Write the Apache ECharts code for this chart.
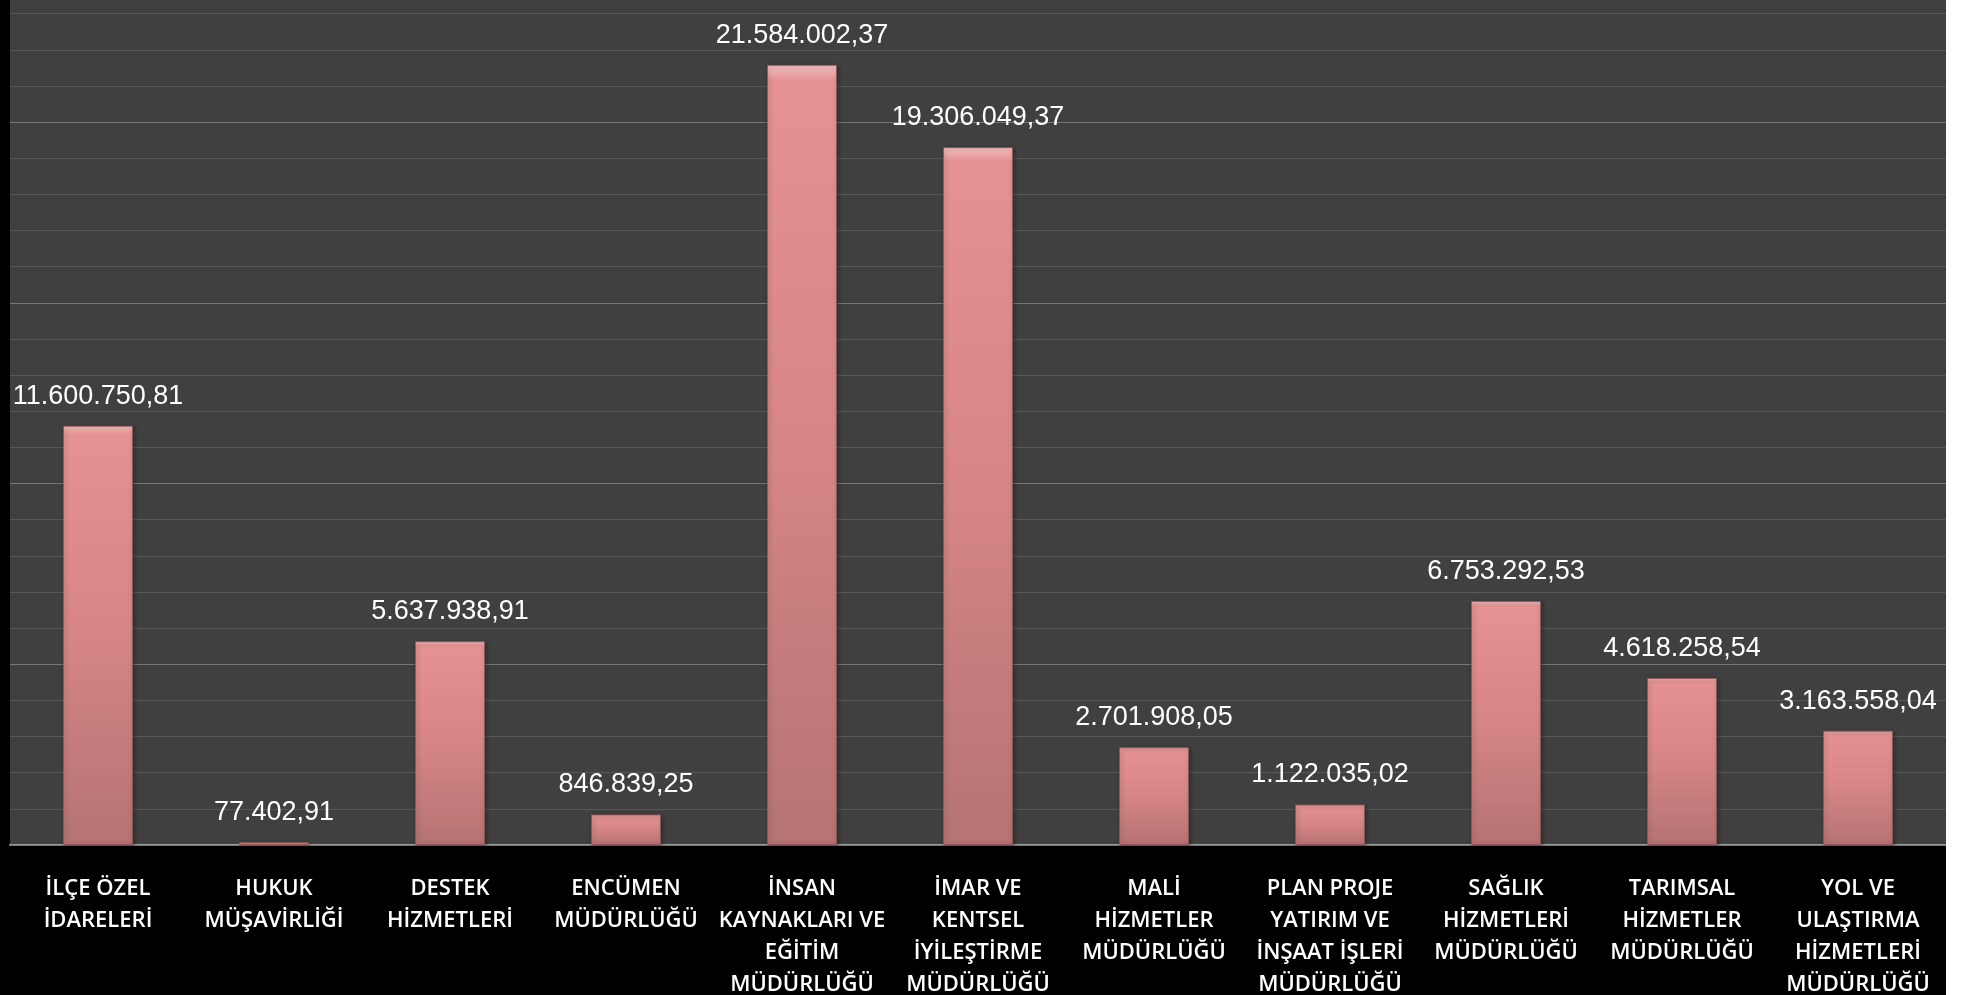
<!DOCTYPE html>
<html>
<head>
<meta charset="utf-8">
<script src="https://cdn.jsdelivr.net/npm/echarts@6/dist/echarts.min.js"></script>
<style>
  html, body { margin: 0; padding: 0; background: #ffffff; }
  #chart { width: 1946px; height: 995px; background: #000000; }
</style>
</head>
<body>
<div id="chart"></div>
<script>
const categories = [
  "İLÇE ÖZEL\nİDARELERİ",
  "HUKUK\nMÜŞAVİRLİĞİ",
  "DESTEK\nHİZMETLERİ",
  "ENCÜMEN\nMÜDÜRLÜĞÜ",
  "İNSAN\nKAYNAKLARI VE\nEĞİTİM\nMÜDÜRLÜĞÜ",
  "İMAR VE\nKENTSEL\nİYİLEŞTİRME\nMÜDÜRLÜĞÜ",
  "MALİ\nHİZMETLER\nMÜDÜRLÜĞÜ",
  "PLAN PROJE\nYATIRIM VE\nİNŞAAT İŞLERİ\nMÜDÜRLÜĞÜ",
  "SAĞLIK\nHİZMETLERİ\nMÜDÜRLÜĞÜ",
  "TARIMSAL\nHİZMETLER\nMÜDÜRLÜĞÜ",
  "YOL VE\nULAŞTIRMA\nHİZMETLERİ\nMÜDÜRLÜĞÜ"
];
const amounts = [
  11600750.81, 77402.91, 5637938.91, 846839.25, 21584002.37, 19306049.37,
  2701908.05, 1122035.02, 6753292.53, 4618258.54, 3163558.04
];

function fmtTR(v) {
  const parts = v.toFixed(2).split('.');
  return parts[0].replace(/\B(?=(\d{3})+(?!\d))/g, '.') + ',' + parts[1];
}

const chart = echarts.init(document.getElementById('chart'), null, { renderer: 'canvas' });
const yMax = 23930000;
chart.setOption({
  backgroundColor: '#000000',
  animation: false,
  grid: {
    left: 10, right: 0, top: -20, bottom: 150,
    outerBoundsMode: 'none', containLabel: false,
    show: true, backgroundColor: '#404040', borderWidth: 0
  },
  xAxis: {
    type: 'category',
    data: categories,
    axisLine: { show: true, lineStyle: { color: '#9c9c9c', width: 2 } },
    axisTick: { show: false },
    axisLabel: {
      interval: 0, color: '#ffffff', fontFamily: 'Open Sans', fontSize: 22,
      fontWeight: 600, lineHeight: 32, margin: 28
    }
  },
  yAxis: [
    {
      type: 'value', min: 0, max: yMax, interval: 5000000,
      axisLine: { show: false }, axisTick: { show: false }, axisLabel: { show: false },
      splitLine: { show: true, lineStyle: { color: '#767676', width: 1 } },
      z: 1
    },
    {
      type: 'value', min: 0, max: yMax, interval: 1000000,
      axisLine: { show: false }, axisTick: { show: false }, axisLabel: { show: false },
      splitLine: { show: true, lineStyle: { color: '#585858', width: 1 } },
      z: 0
    }
  ],
  series: [{
    type: 'bar',
    yAxisIndex: 0,
    data: amounts,
    barWidth: 70,
    itemStyle: {
      color: new echarts.graphic.LinearGradient(0, 0, 0, 1, [
        { offset: 0, color: '#f6c0c0' },
        { offset: 0.02, color: '#e49292' },
        { offset: 0.5, color: '#d68585' },
        { offset: 1, color: '#b57373' }
      ]),
      borderColor: 'rgba(150,85,85,0.9)',
      borderWidth: 1,
      shadowColor: 'rgba(0,0,0,0.35)',
      shadowBlur: 4,
      shadowOffsetX: 1,
      shadowOffsetY: 1
    },
    label: {
      show: true, position: 'top', distance: 16,
      color: '#ffffff', fontFamily: 'Liberation Sans', fontSize: 27,
      formatter: p => fmtTR(p.value)
    }
  }]
});
</script>
</body>
</html>
